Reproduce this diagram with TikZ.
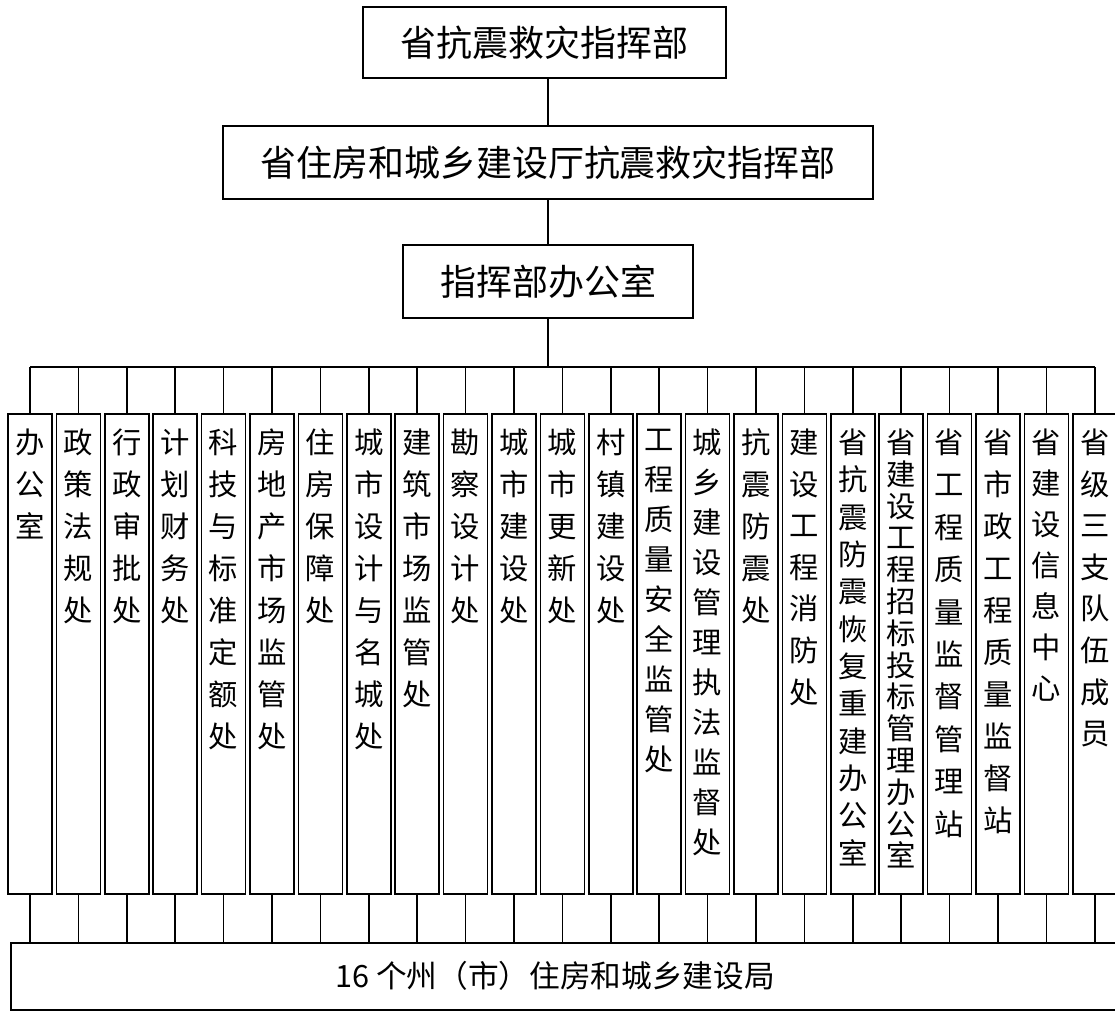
\documentclass[tikz,border=0pt]{standalone}
\usepackage{fontspec}
\setmainfont{Noto Sans CJK SC}
\tikzset{every picture/.style={line width=1.3pt}}
\tikzset{
  headbox/.style={draw, inner sep=0pt, font=\fontsize{27}{32}\selectfont},
  colbox/.style={draw, minimum width=33pt, minimum height=360pt, inner sep=0pt},
  coltext/.style={anchor=north, inner sep=0pt, align=center},
}

\begin{document}
\begin{tikzpicture}[x=0.75pt,y=0.75pt,yscale=-1]
\useasboundingbox (0,0) rectangle (1115,1012);

% Head boxes
\node[headbox, minimum width=272.25pt, minimum height=53.25pt] (hq) at (544.5,42.5) {省抗震救灾指挥部};
\node[headbox, minimum width=487.5pt, minimum height=54.75pt] (dept) at (548,162.5) {省住房和城乡建设厅抗震救灾指挥部};
\node[headbox, minimum width=217.5pt, minimum height=54.75pt] (office) at (548,281.5) {指挥部办公室};

\draw (dept.north) -- (dept.north |- hq.south);
\draw (office.north) -- (office.north |- dept.south);

% Bus and bottom box
\coordinate (bus) at (548,367);
\draw (office.south) -- (bus);
\node[draw, minimum width=835.5pt, minimum height=50.25pt, inner sep=0pt] (bureau) at (568,976.5) {};
\node[font=\fontsize{23}{28}\selectfont] (bureaulabel) at (555,976) {16 个州（市）住房和城乡建设局};

% Columns
\foreach \t/\p [count=\i from 0] in {
  {办\\公\\室}/31.5,
  {政\\策\\法\\规\\处}/31.5,
  {行\\政\\审\\批\\处}/31.5,
  {计\\划\\财\\务\\处}/31.5,
  {科\\技\\与\\标\\准\\定\\额\\处}/31.5,
  {房\\地\\产\\市\\场\\监\\管\\处}/31.5,
  {住\\房\\保\\障\\处}/31.5,
  {城\\市\\设\\计\\与\\名\\城\\处}/31.5,
  {建\\筑\\市\\场\\监\\管\\处}/31.5,
  {勘\\察\\设\\计\\处}/31.5,
  {城\\市\\建\\设\\处}/31.5,
  {城\\市\\更\\新\\处}/31.5,
  {村\\镇\\建\\设\\处}/31.5,
  {工\\程\\质\\量\\安\\全\\监\\管\\处}/30,
  {城\\乡\\建\\设\\管\\理\\执\\法\\监\\督\\处}/30,
  {抗\\震\\防\\震\\处}/31.5,
  {建\\设\\工\\程\\消\\防\\处}/31.2,
  {省\\抗\\震\\防\\震\\恢\\复\\重\\建\\办\\公\\室}/28,
  {省\\建\\设\\工\\程\\招\\标\\投\\标\\管\\理\\办\\公\\室}/23.85,
  {省\\工\\程\\质\\量\\监\\督\\管\\理\\站}/31.8,
  {省\\市\\政\\工\\程\\质\\量\\监\\督\\站}/31.5,
  {省\\建\\设\\信\\息\\中\\心}/30.8,
  {省\\级\\三\\支\\队\\伍\\成\\员}/31.2}{
  \node[colbox] (c\i) at ({30+48.4*\i},654) {};
  \node[coltext, font=\fontsize{22}{\p}\selectfont] (t\i) at ({30+48.4*\i},428) {\t};
  \draw (c\i.north) -- (c\i.north |- bus);
  \draw (c\i.south) -- (c\i.south |- bureau.north);
}
\draw (c0.north |- bus) -- (c22.north |- bus);

\end{tikzpicture}
\end{document}
